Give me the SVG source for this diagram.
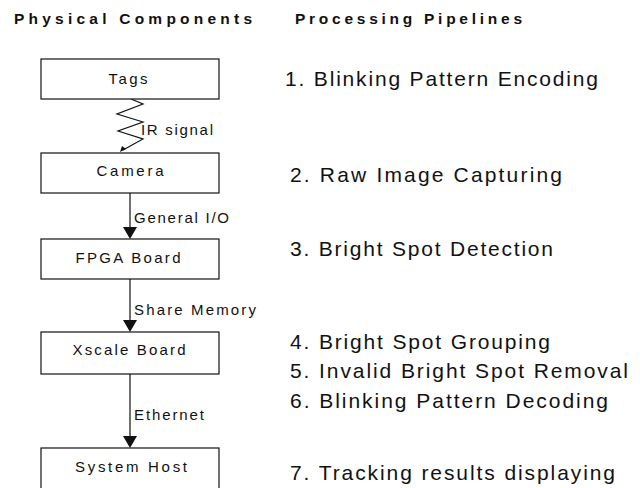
<svg xmlns="http://www.w3.org/2000/svg" width="640" height="488" viewBox="0 0 640 488">
<defs>
<style>
.hdr{font-family:"Liberation Sans",Arial,sans-serif;font-weight:bold;font-size:15.5px;fill:#111}
.node rect{fill:#fff;stroke:#111;stroke-width:1.2}
.nt{font-family:"Liberation Sans",Arial,sans-serif;font-size:15px;fill:#111;text-anchor:middle}
.lbl{font-family:"Liberation Sans",Arial,sans-serif;font-size:15px;fill:#111}
.step{font-family:"Liberation Sans",Arial,sans-serif;font-size:21px;fill:#111}
.conn{stroke:#111;stroke-width:1.2;fill:none}
.head{fill:#111}
</style>
</defs>
<rect width="640" height="488" fill="#fff"/>
<text class="hdr" x="14" y="24" textLength="238" lengthAdjust="spacing">Physical Components</text>
<text class="hdr" x="295" y="24" textLength="227" lengthAdjust="spacing">Processing Pipelines</text>

<g id="connectors">
<path class="conn" d="M131,99 L143,104 L117,114 L143,122 L118,131 L143,139 L123,150"/>
<polygon class="head" points="120,152 122,146 126,149"/>
<line class="conn" x1="130" y1="193" x2="130" y2="228"/>
<polygon class="head" points="123,227 137,227 130,239"/>
<line class="conn" x1="130" y1="279" x2="130" y2="321"/>
<polygon class="head" points="123,320 137,320 130,332"/>
<line class="conn" x1="130" y1="374" x2="130" y2="437"/>
<polygon class="head" points="123,436 137,436 130,448"/>
<text class="lbl" x="141" y="135" textLength="72" lengthAdjust="spacing">IR signal</text>
<text class="lbl" x="134" y="223" textLength="95" lengthAdjust="spacing">General I/O</text>
<text class="lbl" x="134" y="315" textLength="122" lengthAdjust="spacing">Share Memory</text>
<text class="lbl" x="134" y="420" textLength="70" lengthAdjust="spacing">Ethernet</text>
</g>

<g id="tags" class="node"><rect x="41" y="59" width="178" height="40"/><text class="nt" x="128" y="84" textLength="39" lengthAdjust="spacing">Tags</text></g>
<g id="camera" class="node"><rect x="41" y="153" width="178" height="40"/><text class="nt" x="130" y="176" textLength="67" lengthAdjust="spacing">Camera</text></g>
<g id="fpga" class="node"><rect x="41" y="239" width="178" height="40"/><text class="nt" x="128" y="263" textLength="105" lengthAdjust="spacing">FPGA Board</text></g>
<g id="xscale" class="node"><rect x="41" y="332" width="178" height="42"/><text class="nt" x="129" y="355" textLength="113" lengthAdjust="spacing">Xscale Board</text></g>
<g id="host" class="node"><rect x="41" y="448" width="178" height="44"/><text class="nt" x="131" y="472" textLength="112" lengthAdjust="spacing">System Host</text></g>

<g id="steps">
<text class="step" x="285" y="86" textLength="313" lengthAdjust="spacing">1. Blinking Pattern Encoding</text>
<text class="step" x="290" y="182" textLength="272" lengthAdjust="spacing">2. Raw Image Capturing</text>
<text class="step" x="290" y="256" textLength="263" lengthAdjust="spacing">3. Bright Spot Detection</text>
<text class="step" x="290" y="349" textLength="260" lengthAdjust="spacing">4. Bright Spot Grouping</text>
<text class="step" x="290" y="378" textLength="338" lengthAdjust="spacing">5. Invalid Bright Spot Removal</text>
<text class="step" x="290" y="408" textLength="318" lengthAdjust="spacing">6. Blinking Pattern Decoding</text>
<text class="step" x="290" y="480" textLength="325" lengthAdjust="spacing">7. Tracking results displaying</text>
</g>
</svg>
